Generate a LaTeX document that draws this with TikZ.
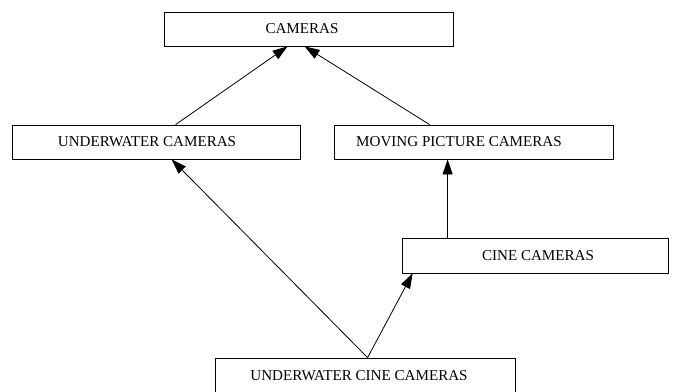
\documentclass[tikz,border=0pt]{standalone}
\usepackage{fontspec}
\setmainfont{Liberation Serif}
\usetikzlibrary{arrows.meta}
\begin{document}
\begin{tikzpicture}[x=1pt,y=-1pt,
  box/.style={draw, line width=0.8pt, rectangle, inner sep=0pt, minimum height=34pt},
  lbl/.style={inner sep=0pt, font=\fontsize{15.1}{17}\selectfont},
  edge/.style={line width=0.8pt, -{Triangle[length=15pt,width=10pt]}}]
  \useasboundingbox (0,0) rectangle (674,391);
  % class boxes
  \node[box, minimum width=289pt] (cam)  at (308.5,29) {};
  \node[box, minimum width=288pt] (uc)   at (156,142) {};
  \node[box, minimum width=279pt] (mpc)  at (473.5,142) {};
  \node[box, minimum width=266pt, minimum height=35pt] (cine) at (535,255.5) {};
  \node[box, minimum width=300pt] (ucc)  at (365,375) {};
  % labels
  \node[lbl] (tcam)  at (302,29)  {CAMERAS};
  \node[lbl] (tuc)   at (147,142) {UNDERWATER CAMERAS};
  \node[lbl] (tmpc)  at (459,142) {MOVING PICTURE CAMERAS};
  \node[lbl] (tcine) at (538,256) {CINE CAMERAS};
  \node[lbl] (tucc)  at (359,376) {UNDERWATER CINE CAMERAS};
  % is-a links
  \draw[edge] ([xshift=164pt]uc.north west)  -- ([xshift=124pt]cam.south west);
  \draw[edge] ([xshift=96pt]mpc.north west)  -- ([xshift=141pt]cam.south west);
  \draw[edge] ([xshift=46pt]cine.north west) -- ([xshift=114pt]mpc.south west);
  \draw[edge] ([xshift=153pt]ucc.north west) -- ([xshift=160pt]uc.south west);
  \draw[edge] ([xshift=153pt]ucc.north west) -- ([xshift=11pt]cine.south west);
\end{tikzpicture}
\end{document}
